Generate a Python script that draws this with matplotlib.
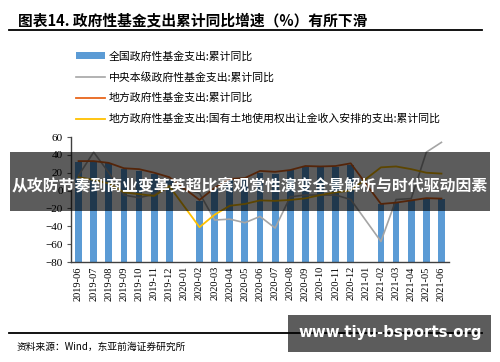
import numpy as np
import matplotlib
matplotlib.use("Agg")
import matplotlib.pyplot as plt
from matplotlib.lines import Line2D
from matplotlib.patches import Rectangle

months = ['2019-06', '2019-07', '2019-08', '2019-09', '2019-10', '2019-11', '2019-12',
          '2020-01', '2020-02', '2020-03', '2020-04', '2020-05', '2020-06', '2020-07',
          '2020-08', '2020-09', '2020-10', '2020-11', '2020-12', '2021-01', '2021-02',
          '2021-03', '2021-04', '2021-05', '2021-06']
national = [32, 32.5, 30.5, 24, 22, 19, 12, None, -12, 2, 12, 13, 20, 19, 23, 26, 26, 26, 29,
            None, -15, -13, -11, -9, -9.5]
central = [17, 43, 20, -5, -8, -4, 6, None, -3, -33, -32, -36, -29, -42, -7, -5, -5, -5, -10,
           None, -57, -10, -9, 43, 54]
local = [33, 33, 31, 25, 24, 20, 15, None, -10.5, 3, 13, 14, 22, 21, 23, 27.5, 27, 27.5, 30.5,
         None, -15, -13.5, -11, -8.5, -9]
land = [15, 12, 8, -2, -4, -6, 5, None, -41, -27, -17, -15, -11, -11.5, -10.5, -8.7, -5, -2, 0,
        None, 26, 27, 24, 20, 19]

labels = ['全国政府性基金支出:累计同比',
          '中央本级政府性基金支出:累计同比',
          '地方政府性基金支出:累计同比',
          '地方政府性基金支出:国有土地使用权出让金收入安排的支出:累计同比']

title = '图表14. 政府性基金支出累计同比增速（%）有所下滑'
source = '资料来源：Wind，东亚前海证券研究所'
banner = '从攻防节奏到商业变革英超比赛观赏性演变全景解析与时代驱动因素'
site = 'www.tiyu-bsports.org'

CJK = ['Noto Sans CJK SC', 'DejaVu Sans']
SERIF = ['Liberation Serif', 'DejaVu Serif']

W, H = 500, 362
fig = plt.figure(figsize=(W / 100, H / 100), dpi=100)
fig.patch.set_facecolor('white')

ax = fig.add_axes([71 / W, 1 - 262 / H, (449 - 71) / W, (262 - 137) / H])
x = np.arange(len(months))

def arr(v):
    return np.array([np.nan if a is None else a for a in v], dtype=float)

nat = arr(national)
ymin = -80
valid = ~np.isnan(nat)
ax.bar(x[valid], nat[valid] - ymin, bottom=ymin, width=0.45, color='#5B9BD5', zorder=2,
       label=labels[0])

def plot_line(vals, color, lw, lab):
    a = arr(vals)
    m = ~np.isnan(a)
    ax.plot(x[m], a[m], color=color, lw=lw, zorder=3, label=lab)

plot_line(central, '#A5A5A5', 1.2, labels[1])
plot_line(local, '#E8661B', 1.3, labels[2])
plot_line(land, '#FFC000', 1.3, labels[3])

ax.set_xlim(-0.5, len(months) - 0.5)
ax.set_ylim(-80, 60)
ax.set_yticks(np.arange(-80, 61, 20))
ax.set_xticks(x)
ax.set_xticklabels(months, rotation=90, family=SERIF, fontsize=7.5)
for t in ax.get_yticklabels():
    t.set_family(SERIF)
    t.set_fontsize(8)
ax.tick_params(axis='y', direction='out', length=3, width=0.8, color='#595959', pad=3)
ax.tick_params(axis='x', length=0, pad=3)
for s in ['top', 'right']:
    ax.spines[s].set_visible(False)
for s in ['left', 'bottom']:
    ax.spines[s].set_color('#404040')
    ax.spines[s].set_linewidth(1.0)

handles, labs = ax.get_legend_handles_labels()
order = [3, 0, 1, 2]
handles = [handles[i] for i in order]
labs = [labs[i] for i in order]
fig.legend(handles, labs, loc='upper left', bbox_to_anchor=(76 / W, 1 - 51 / H),
           frameon=False, prop={'family': CJK, 'size': 7.8}, handlelength=2.7,
           handleheight=0.5, labelspacing=0.95, borderpad=0, borderaxespad=0,
           handletextpad=0.3)

# title and rules
fig.text(18 / W, 1 - 20 / H, title, family=CJK, fontsize=10.6, fontweight='bold',
         va='center', ha='left')
fig.add_artist(Line2D([9 / W, 482 / W], [1 - 30 / H, 1 - 30 / H], color='black', lw=1.3))
fig.add_artist(Line2D([9 / W, 482 / W], [1 - 333 / H, 1 - 333 / H], color='black', lw=1.3))
fig.text(17 / W, 1 - 347 / H, source, family=CJK, fontsize=7, va='center', ha='left')

# overlay banners
fig.add_artist(Rectangle((10 / W, 1 - 211 / H), 480 / W, 59 / H, transform=fig.transFigure,
                         facecolor='black', alpha=0.64, edgecolor='none', zorder=10))
fig.text(250 / W, 1 - 185 / H, banner, family=CJK, fontsize=11.4, fontweight='bold',
         color='white', ha='center', va='center', zorder=11)
fig.add_artist(Rectangle((288 / W, 1 - 352 / H), 203 / W, 37 / H, transform=fig.transFigure,
                         facecolor='black', alpha=0.64, edgecolor='none', zorder=10))
fig.text(390 / W, 1 - 333 / H, site, family=['DejaVu Sans'], fontsize=10.8, fontweight='bold',
         color='white', ha='center', va='center', zorder=11)

fig.savefig('out.png', dpi=100)
